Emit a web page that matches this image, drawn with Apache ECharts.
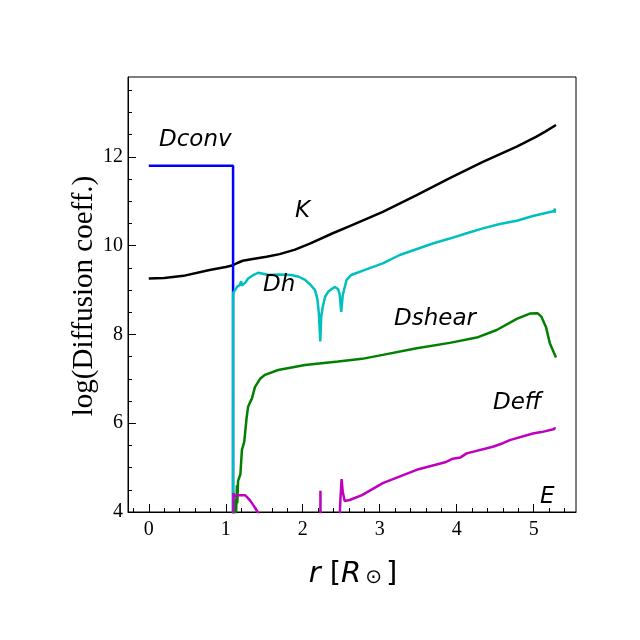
<!DOCTYPE html>
<html>
<head>
<meta charset="utf-8">
<script src="https://cdn.jsdelivr.net/npm/echarts@6/dist/echarts.min.js"></script>
<style>html,body{margin:0;padding:0;background:#fff}#c{width:640px;height:640px}</style>
</head>
<body>
<div id="c"></div>
<script>
// ---- data (r [R_sun], log D) ----
const xMajorTicks = [0, 1, 2, 3, 4, 5];
const xMinorTicks = [-0.2, 0.2, 0.4, 0.6, 0.8, 1.2, 1.4, 1.6, 1.8, 2.2, 2.4, 2.6, 2.8, 3.2, 3.4, 3.6, 3.8, 4.2, 4.4, 4.6, 4.8, 5.2, 5.4];
const yMajorTicks = [4, 6, 8, 10, 12];
const yMinorTicks = [4.5, 5, 5.5, 6.5, 7, 7.5, 8.5, 9, 9.5, 10.5, 11, 11.5, 12.5, 13, 13.5];

const dconv = [[0, 11.8], [1.095, 11.8], [1.095, 3.5]];

const kappa = [[0, 9.26], [0.2, 9.27], [0.45, 9.32], [0.79, 9.45], [1.0, 9.52], [1.095, 9.56], [1.15, 9.61],
  [1.22, 9.66], [1.35, 9.70], [1.53, 9.75], [1.7, 9.81], [1.9, 9.91], [2.1, 10.05], [2.39, 10.28],
  [2.61, 10.44], [3.04, 10.76], [3.48, 11.14], [3.91, 11.52], [4.34, 11.89], [4.78, 12.23], [5.03, 12.45],
  [5.15, 12.57], [5.29, 12.72]];

const dh = [[1.094, 3.5], [1.095, 8.93], [1.12, 9.0], [1.15, 9.08], [1.18, 9.11], [1.20, 9.2], [1.21, 9.1],
  [1.23, 9.08], [1.26, 9.18], [1.29, 9.26], [1.35, 9.33], [1.42, 9.39], [1.5, 9.36], [1.55, 9.34], [1.7, 9.35],
  [1.85, 9.34], [1.95, 9.3], [2.03, 9.23], [2.1, 9.12], [2.16, 9.0], [2.19, 8.8], [2.21, 8.47], [2.228, 7.84],
  [2.24, 8.4], [2.26, 8.62], [2.29, 8.85], [2.33, 8.96], [2.38, 9.03], [2.42, 9.07], [2.46, 9.02], [2.48, 8.9],
  [2.50, 8.51], [2.52, 8.89], [2.57, 9.23], [2.63, 9.34], [2.80, 9.45], [3.04, 9.6], [3.26, 9.79], [3.69, 10.05],
  [3.91, 10.16], [4.13, 10.28], [4.34, 10.39], [4.56, 10.49], [4.78, 10.56], [4.99, 10.67], [5.27, 10.78],
  [5.275, 10.84], [5.275, 10.74]];

const dshear = [[1.12, 3.5], [1.13, 4.3], [1.135, 4.0], [1.145, 4.6], [1.15, 4.2], [1.16, 4.7], [1.17, 4.72],
  [1.19, 4.85], [1.21, 5.40], [1.24, 5.58], [1.27, 6.11], [1.29, 6.37], [1.34, 6.56], [1.38, 6.82], [1.45, 7.01],
  [1.51, 7.09], [1.68, 7.2], [2.03, 7.31], [2.46, 7.39], [2.77, 7.45], [3.04, 7.54], [3.48, 7.69], [3.91, 7.81],
  [4.26, 7.93], [4.52, 8.10], [4.78, 8.35], [4.95, 8.47], [5.05, 8.48], [5.10, 8.40], [5.16, 8.17], [5.21, 7.80],
  [5.29, 7.48]];

const deffA = [[1.098, 3.5], [1.10, 4.42], [1.12, 4.35], [1.14, 4.33], [1.16, 4.38], [1.2, 4.38], [1.25, 4.38],
  [1.28, 4.33], [1.32, 4.25], [1.36, 4.15], [1.4, 4.04], [1.45, 3.9]];
const deffB = [[2.229, 3.5], [2.23, 4.48], [2.231, 3.5]];
const deffC = [[2.47, 3.5], [2.49, 4.3], [2.505, 4.74], [2.52, 4.45], [2.545, 4.25], [2.57, 4.22], [2.61, 4.27],
  [2.77, 4.38], [3.04, 4.65], [3.48, 4.95], [3.85, 5.12], [3.95, 5.2], [4.05, 5.23], [4.13, 5.32], [4.47, 5.47],
  [4.6, 5.55], [4.69, 5.62], [4.99, 5.77], [5.1, 5.8], [5.27, 5.87], [5.275, 5.91], [5.275, 5.83]];

const curveLabels = [
  {text: 'Dconv', x: 159, y: 140},
  {text: 'K', x: 295, y: 211},
  {text: 'Dh', x: 263, y: 285},
  {text: 'Dshear', x: 394, y: 319},
  {text: 'Deff', x: 493, y: 403},
  {text: 'E', x: 540, y: 497}
];

const chart = echarts.init(document.getElementById('c'), null, {renderer: 'canvas'});
const serif = '"Liberation Serif", "DejaVu Serif", serif';
const sans = '"DejaVu Sans", sans-serif';
function line(data, color) {
  return {type: 'line', data: data, showSymbol: false, symbol: 'none', clip: true,
    lineStyle: {color: color, width: 2.5}, xAxisIndex: 0, yAxisIndex: 0, animation: false};
}
const xr = {min: -0.27, max: 5.55};
const yr = {min: 4, max: 13.8};
chart.setOption({
  animation: false,
  backgroundColor: '#fff',
  grid: {left: 128, right: 64, top: 77, bottom: 128, show: true, borderColor: '#000', borderWidth: 1, backgroundColor: 'transparent'},
  xAxis: [
    {type: 'value', min: xr.min, max: xr.max, position: 'bottom',
      axisLine: {show: true, onZero: false, lineStyle: {color: '#000', width: 1}},
      axisTick: {show: true, inside: true, length: 8, customValues: xMajorTicks, lineStyle: {color: '#000', width: 1}},
      axisLabel: {show: true, customValues: xMajorTicks, margin: 8, color: '#000', fontFamily: serif, fontSize: 20},
      splitLine: {show: false}},
    {type: 'value', min: xr.min, max: xr.max, position: 'bottom',
      axisLine: {show: false, onZero: false},
      axisTick: {show: true, inside: true, length: 4, customValues: xMinorTicks, lineStyle: {color: '#000', width: 1}},
      axisLabel: {show: false}, splitLine: {show: false}}
  ],
  yAxis: [
    {type: 'value', min: yr.min, max: yr.max, position: 'left',
      axisLine: {show: true, onZero: false, lineStyle: {color: '#000', width: 1}},
      axisTick: {show: true, inside: true, length: 8, customValues: yMajorTicks, lineStyle: {color: '#000', width: 1}},
      axisLabel: {show: true, customValues: yMajorTicks, margin: 5, color: '#000', fontFamily: serif, fontSize: 20},
      splitLine: {show: false}},
    {type: 'value', min: yr.min, max: yr.max, position: 'left',
      axisLine: {show: false, onZero: false},
      axisTick: {show: true, inside: true, length: 4, customValues: yMinorTicks, lineStyle: {color: '#000', width: 1}},
      axisLabel: {show: false}, splitLine: {show: false}}
  ],
  series: [
    line(kappa, '#000000'),
    line(dconv, '#0000ff'),
    line(dh, '#00bfbf'),
    line(dshear, '#008000'),
    line(deffA, '#bf00bf'),
    line(deffB, '#bf00bf'),
    line(deffC, '#bf00bf')
  ],
  graphic: curveLabels.map(l => ({
    type: 'text', x: l.x, y: l.y, z: 100,
    style: {text: l.text, fill: '#000', font: 'italic 23px ' + sans, align: 'left', verticalAlign: 'middle'}
  })).concat([
    {type: 'text', x: 84, y: 296, rotation: Math.PI / 2, z: 100,
      style: {text: 'log(Diffusion coeff.)', fill: '#000', font: '29px ' + serif, align: 'center', verticalAlign: 'middle'}},
    {type: 'text', x: 353, y: 574, z: 100,
      style: {text: '{i|r} [{i|R}{s|⊙}]', fill: '#000', font: '29px ' + sans, align: 'center', verticalAlign: 'middle',
        rich: {i: {font: 'italic 29px ' + sans, fill: '#000'}, s: {font: '20px ' + sans, fill: '#000', padding: [8, 4, 0, 4]}}}}
  ])
});
</script>
</body>
</html>
